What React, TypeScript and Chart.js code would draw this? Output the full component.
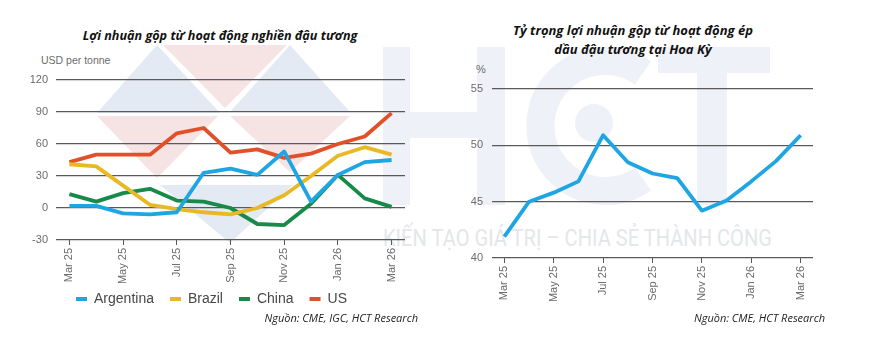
import React, { useEffect, useRef } from "react";
import { Chart, registerables } from "chart.js";

Chart.register(...registerables);

const months = ["Mar 25", "Apr 25", "May 25", "Jun 25", "Jul 25", "Aug 25", "Sep 25", "Oct 25", "Nov 25", "Dec 25", "Jan 26", "Feb 26", "Mar 26"];
const argentina = [2, 2, -5, -6, -4, 33, 37, 31, 53, 6, 31, 43, 45];
const brazil = [41, 39, 21, 3, -1, -4, -6, 0, 12, 30, 49, 57, 50];
const china = [13, 6, 14, 18, 7, 6, 0, -15, -16, 4, 31, 9, 1];
const us = [43, 50, 50, 50, 70, 75, 52, 55, 47, 51, 60, 67, 89];
const usShare = [41.9, 45.0, 45.8, 46.8, 50.9, 48.5, 47.5, 47.1, 44.2, 45.1, 46.8, 48.6, 50.9];

const leftTitle = "Lợi nhuận gộp từ hoạt động nghiền đậu tương";
const rightTitle = ["Tỷ trọng lợi nhuận gộp từ hoạt động ép", "dầu đậu tương tại Hoa Kỳ"];
const leftSource = "Nguồn: CME, IGC, HCT Research";
const rightSource = "Nguồn: CME, HCT Research";
const leftUnit = "USD per tonne";
const rightUnit = "%";
const tagline = "KIẾN TẠO GIÁ TRỊ – CHIA SẺ THÀNH CÔNG";

const BLUE = "#1ea5e3";
const YELLOW = "#e8b923";
const GREEN = "#178a4a";
const ORANGE = "#e2502a";
const GRID = "#5a5a5a";
const TICK = "#6b6b6b";
const FONT = "'Liberation Sans', Arial, sans-serif";

function xScale(axisHeight: number) {
  return {
    type: "category" as const,
    offset: true,
    border: { display: false },
    grid: {
      drawOnChartArea: false,
      drawTicks: true,
      tickLength: 5,
      lineWidth: 1,
      color: (ctx: any) => (ctx.index % 2 === 0 ? GRID : "transparent"),
    },
    ticks: {
      autoSkip: false,
      maxRotation: 90,
      minRotation: 90,
      padding: 3,
      color: TICK,
      font: { family: FONT, size: 11 },
      callback: (_v: any, i: number) => (i % 2 === 0 ? months[i] : ""),
    },
    afterFit: (s: any) => {
      s.height = axisHeight;
    },
  };
}

function yScale(min: number, max: number, step: number, width: number, pad: number) {
  return {
    min,
    max,
    border: { display: false },
    grid: { color: GRID, lineWidth: 1.3, drawTicks: false },
    ticks: { stepSize: step, padding: pad, color: TICK, font: { family: FONT, size: 11 } },
    afterFit: (s: any) => {
      s.width = width;
    },
  };
}

function line(label: string, data: number[], color: string) {
  return {
    label,
    data,
    borderColor: color,
    backgroundColor: color,
    borderWidth: 3.8,
    pointRadius: 0,
    tension: 0,
    borderJoinStyle: "round" as const,
  };
}

const liftLegend = {
  id: "liftLegend",
  afterLayout(chart: any) {
    const lg = chart.legend;
    if (lg) {
      lg.top -= 8;
      lg.bottom -= 8;
    }
  },
};

function LeftChart() {
  const ref = useRef<HTMLCanvasElement>(null);
  useEffect(() => {
    const chart = new Chart(ref.current!, {
      type: "line",
      data: {
        labels: months,
        datasets: [
          line("Argentina", argentina, BLUE),
          line("Brazil", brazil, YELLOW),
          line("China", china, GREEN),
          line("US", us, ORANGE),
        ],
      },
      options: {
        responsive: false,
        animation: false,
        layout: { padding: { top: 80, right: 35, left: 18, bottom: 0 } },
        plugins: {
          tooltip: { enabled: false },
          title: { display: false },
          legend: {
            position: "bottom",
            labels: {
              boxWidth: 11,
              boxHeight: 4,
              padding: 16,
              color: "#484848",
              font: { family: FONT, size: 14 },
              generateLabels: (c: any) =>
                Chart.defaults.plugins.legend.labels.generateLabels(c).map((l: any) => ({ ...l, lineWidth: 0 })),
            },
          },
        },
        scales: {
          x: xScale(44),
          y: yScale(-30, 120, 30, 38, 8),
        },
      } as any,
      plugins: [liftLegend],
    });
    return () => chart.destroy();
  }, []);
  return <canvas ref={ref} width={440} height={324} style={{ position: "absolute", left: 0, top: 0 }} />;
}

function RightChart() {
  const ref = useRef<HTMLCanvasElement>(null);
  useEffect(() => {
    const chart = new Chart(ref.current!, {
      type: "line",
      data: {
        labels: months,
        datasets: [line("US", usShare, BLUE)],
      },
      options: {
        responsive: false,
        animation: false,
        layout: { padding: { top: 89, right: 13, left: 0, bottom: 0 } },
        plugins: {
          tooltip: { enabled: false },
          legend: { display: false },
        },
        scales: {
          x: xScale(44),
          y: yScale(40, 55, 5, 52, 9),
        },
      } as any,
    });
    return () => chart.destroy();
  }, []);
  return <canvas ref={ref} width={386} height={302} style={{ position: "absolute", left: 440, top: 0 }} />;
}

const abs = (s: React.CSSProperties): React.CSSProperties => ({ position: "absolute", whiteSpace: "nowrap", ...s });

function Watermark() {
  const wb = "#e4eaf3";
  const wp = "#f6e3e3";
  const hc = "#eef1f7";
  return (
    <svg width={871} height={353} style={{ position: "absolute", left: 0, top: 0 }}>
      <polygon points="157,45 97,113 220,113" fill={wb} />
      <polygon points="97,116 218,116 157,178" fill={wp} />
      <polygon points="163,45 287,45 225,108" fill={wp} />
      <polygon points="290,45 230,112 350,112" fill={wb} />
      <polygon points="230,116 350,116 290,172" fill={wp} />
      <polygon points="160,185 293,185 230,243" fill={wb} />
      <rect x={383} y={47} width={27} height={158} fill={hc} />
      <rect x={477} y={47} width={28} height={158} fill={hc} />
      <rect x={410} y={112} width={67} height={26} fill={hc} />
      <path d="M 643 73 A 65 65 0 1 0 643 179" stroke={hc} strokeWidth={28} fill="none" />
      <circle cx={594} cy={123} r={19} fill={hc} />
      <rect x={658} y={47} width={112} height={26} fill={hc} />
      <rect x={697} y={73} width={30} height={132} fill={hc} />
      <text x={383} y={246} textLength={389} lengthAdjust="spacingAndGlyphs" fontFamily="Roboto, sans-serif" fontSize={23} fill="#e4e6ea">
        {tagline}
      </text>
    </svg>
  );
}

export default function App() {
  return (
    <div style={{ position: "absolute", left: 0, top: 0, width: 871, height: 353, background: "#fff", overflow: "hidden" }}>
      <Watermark />
      <div style={abs({ left: 0, width: 440, top: 26, textAlign: "center", fontFamily: "'Open Sans', sans-serif", fontWeight: 700, fontStyle: "italic", fontSize: 12.6, color: "#111", lineHeight: "19px" })}>{leftTitle}</div>
      <div style={abs({ left: 440, width: 386, top: 21, textAlign: "center", fontFamily: "'Open Sans', sans-serif", fontWeight: 700, fontStyle: "italic", fontSize: 13, color: "#111", lineHeight: "19px" })}>
        {rightTitle[0]}
        <br />
        {rightTitle[1]}
      </div>
      <div style={abs({ left: 41, top: 54, fontFamily: FONT, fontSize: 10.5, color: TICK })}>{leftUnit}</div>
      <div style={abs({ left: 476, top: 63, fontFamily: FONT, fontSize: 11, color: TICK })}>{rightUnit}</div>
      <LeftChart />
      <RightChart />
      <div style={abs({ left: 0, width: 418, top: 310, textAlign: "right", fontFamily: "'Open Sans', sans-serif", fontStyle: "italic", fontSize: 11, color: "#222" })}>{leftSource}</div>
      <div style={abs({ left: 440, width: 385, top: 310, textAlign: "right", fontFamily: "'Open Sans', sans-serif", fontStyle: "italic", fontSize: 11, color: "#222" })}>{rightSource}</div>
    </div>
  );
}
